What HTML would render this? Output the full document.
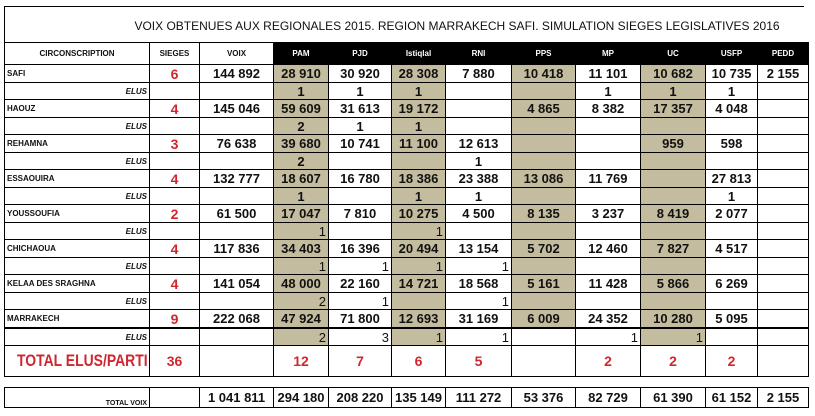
<!DOCTYPE html>
<html><head><meta charset="utf-8"><style>
body{margin:0;width:815px;height:416px;background:#fff;position:relative;overflow:hidden;font-family:"Liberation Sans",sans-serif}
.title{position:absolute;left:4px;top:6px;width:800px;height:36px;border-top:1px solid #000;border-left:1px solid #000;box-sizing:border-box;}
.title span{position:absolute;left:452px;top:12px;transform:translateX(-50%);white-space:nowrap;font-size:12px;color:#111}
table{position:absolute;left:4px;border-collapse:collapse;table-layout:fixed;width:804px}
td{border:1px solid #000;padding:0 2px;text-align:center;font-size:13px;font-weight:bold;color:#111;white-space:nowrap;overflow:hidden}
.h td{height:21px;font-size:8px}
.h td.k{background:#000;color:#fff}
td.n{text-align:left;font-size:8px}
td.e{text-align:right;font-size:8px;font-style:italic}
td.r{color:#d0262e;font-size:14px}
td.t{background:#c4bc9f}
td.ra{text-align:right;font-weight:normal}
tr.a td{height:17px}
tr.b td{height:16px}
tr.thick td{border-bottom:2px solid #000}
.tot{display:inline-block;transform:scaleX(0.82);transform-origin:left center;font-size:17px}
</style></head><body>
<div class="title"><span>VOIX OBTENUES AUX REGIONALES 2015. REGION MARRAKECH SAFI. SIMULATION SIEGES LEGISLATIVES 2016</span></div>
<table style="top:42px">
<colgroup><col style="width:145px"><col style="width:50px"><col style="width:74px"><col style="width:55px"><col style="width:63px"><col style="width:54px"><col style="width:66px"><col style="width:64px"><col style="width:65px"><col style="width:65px"><col style="width:52px"><col style="width:51px"></colgroup>
<tr class="h"><td>CIRCONSCRIPTION</td><td>SIEGES</td><td>VOIX</td><td class="k">PAM</td><td class="k">PJD</td><td class="k">Istiqlal</td><td class="k">RNI</td><td class="k">PPS</td><td class="k">MP</td><td class="k">UC</td><td class="k">USFP</td><td class="k">PEDD</td></tr>
<tr class="a"><td class="n">SAFI</td><td class="r">6</td><td>144 892</td><td class="t">28 910</td><td>30 920</td><td class="t">28 308</td><td>7 880</td><td class="t">10 418</td><td>11 101</td><td class="t">10 682</td><td>10 735</td><td>2 155</td></tr>
<tr class="b"><td class="e">ELUS</td><td></td><td></td><td class="t">1</td><td>1</td><td class="t">1</td><td></td><td class="t"></td><td>1</td><td class="t">1</td><td>1</td><td></td></tr>
<tr class="a"><td class="n">HAOUZ</td><td class="r">4</td><td>145 046</td><td class="t">59 609</td><td>31 613</td><td class="t">19 172</td><td></td><td class="t">4 865</td><td>8 382</td><td class="t">17 357</td><td>4 048</td><td></td></tr>
<tr class="b"><td class="e">ELUS</td><td></td><td></td><td class="t">2</td><td>1</td><td class="t">1</td><td></td><td class="t"></td><td></td><td class="t"></td><td></td><td></td></tr>
<tr class="a"><td class="n">REHAMNA</td><td class="r">3</td><td>76 638</td><td class="t">39 680</td><td>10 741</td><td class="t">11 100</td><td>12 613</td><td class="t"></td><td></td><td class="t">959</td><td>598</td><td></td></tr>
<tr class="b"><td class="e">ELUS</td><td></td><td></td><td class="t">2</td><td></td><td class="t"></td><td>1</td><td class="t"></td><td></td><td class="t"></td><td></td><td></td></tr>
<tr class="a"><td class="n">ESSAOUIRA</td><td class="r">4</td><td>132 777</td><td class="t">18 607</td><td>16 780</td><td class="t">18 386</td><td>23 388</td><td class="t">13 086</td><td>11 769</td><td class="t"></td><td>27 813</td><td></td></tr>
<tr class="b"><td class="e">ELUS</td><td></td><td></td><td class="t">1</td><td></td><td class="t">1</td><td>1</td><td class="t"></td><td></td><td class="t"></td><td>1</td><td></td></tr>
<tr class="a"><td class="n">YOUSSOUFIA</td><td class="r">2</td><td>61 500</td><td class="t">17 047</td><td>7 810</td><td class="t">10 275</td><td>4 500</td><td class="t">8 135</td><td>3 237</td><td class="t">8 419</td><td>2 077</td><td></td></tr>
<tr class="b"><td class="e">ELUS</td><td></td><td></td><td class="t ra">1</td><td></td><td class="t ra">1</td><td></td><td class="t"></td><td></td><td class="t"></td><td></td><td></td></tr>
<tr class="a"><td class="n">CHICHAOUA</td><td class="r">4</td><td>117 836</td><td class="t">34 403</td><td>16 396</td><td class="t">20 494</td><td>13 154</td><td class="t">5 702</td><td>12 460</td><td class="t">7 827</td><td>4 517</td><td></td></tr>
<tr class="b"><td class="e">ELUS</td><td></td><td></td><td class="t ra">1</td><td class="ra">1</td><td class="t ra">1</td><td class="ra">1</td><td class="t"></td><td></td><td class="t"></td><td></td><td></td></tr>
<tr class="a"><td class="n">KELAA DES SRAGHNA</td><td class="r">4</td><td>141 054</td><td class="t">48 000</td><td>22 160</td><td class="t">14 721</td><td>18 568</td><td class="t">5 161</td><td>11 428</td><td class="t">5 866</td><td>6 269</td><td></td></tr>
<tr class="b"><td class="e">ELUS</td><td></td><td></td><td class="t ra">2</td><td class="ra">1</td><td class="t"></td><td class="ra">1</td><td class="t"></td><td></td><td class="t"></td><td></td><td></td></tr>
<tr class="a thick"><td class="n">MARRAKECH</td><td class="r">9</td><td>222 068</td><td class="t">47 924</td><td>71 800</td><td class="t">12 693</td><td>31 169</td><td class="t">6 009</td><td>24 352</td><td class="t">10 280</td><td>5 095</td><td></td></tr>
<tr class="b"><td class="e">ELUS</td><td></td><td></td><td class="t ra">2</td><td class="ra">3</td><td class="t ra">1</td><td class="ra">1</td><td></td><td class="ra">1</td><td class="t ra">1</td><td></td><td></td></tr>
<tr><td class="r" style="height:30px;padding-left:12px;text-align:left"><span class="tot">TOTAL ELUS/PARTI</span></td><td class="r">36</td><td></td><td class="r">12</td><td class="r">7</td><td class="r">6</td><td class="r">5</td><td></td><td class="r">2</td><td class="r">2</td><td class="r">2</td><td></td></tr>
</table>
<table style="top:387px">
<colgroup><col style="width:145px"><col style="width:50px"><col style="width:74px"><col style="width:55px"><col style="width:63px"><col style="width:54px"><col style="width:66px"><col style="width:64px"><col style="width:65px"><col style="width:65px"><col style="width:52px"><col style="width:51px"></colgroup>
<tr><td style="height:19px;text-align:right;font-size:7px;vertical-align:bottom">TOTAL VOIX</td><td></td><td>1 041 811</td><td>294 180</td><td>208 220</td><td>135 149</td><td>111 272</td><td>53 376</td><td>82 729</td><td>61 390</td><td>61 152</td><td>2 155</td></tr>
</table>
</body></html>
